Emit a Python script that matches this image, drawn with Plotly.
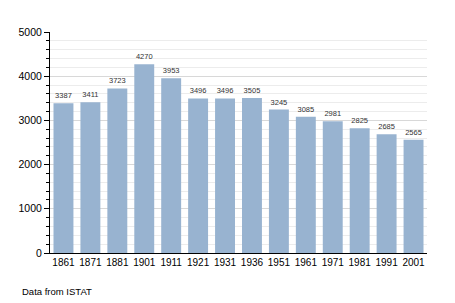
import plotly.graph_objects as go

years = ["1861", "1871", "1881", "1901", "1911", "1921", "1931", "1936", "1951", "1961", "1971", "1981", "1991", "2001"]
population = [3387, 3411, 3723, 4270, 3953, 3496, 3496, 3505, 3245, 3085, 2981, 2825, 2685, 2565]

fig = go.Figure(go.Bar(
    x=years, y=population,
    marker=dict(color="#98b3d0", line=dict(width=0)),
    text=[str(v) for v in population], textposition="outside",
    textfont=dict(size=7.5, color="#333333", family="Liberation Sans, Arial"),
    cliponaxis=False,
))

fig.update_layout(
    width=455, height=303,
    margin=dict(l=50, r=28, t=32, b=50),
    paper_bgcolor="white", plot_bgcolor="white",
    bargap=0.26,
    showlegend=False,
    font=dict(family="Liberation Sans, Arial", size=10, color="black"),
)
fig.update_yaxes(
    range=[0, 5000], tickvals=[0, 1000, 2000, 3000, 4000, 5000],
    showline=True, linecolor="black", linewidth=1,
    ticks="outside", ticklen=5, tickcolor="black", tickfont=dict(size=10.5),
    showgrid=True, gridcolor="#d8d8d8", gridwidth=1,
    minor=dict(dtick=200, ticks="outside", ticklen=3, tickcolor="black", showgrid=True, gridcolor="#ececec"),
    zeroline=False, fixedrange=True,
)
fig.update_xaxes(
    showline=True, linecolor="black", linewidth=1,
    ticks="", tickfont=dict(size=10), fixedrange=True,
)
fig.add_annotation(text="Data from ISTAT", xref="paper", yref="paper",
                   x=-0.08, y=-0.176, xanchor="left", yanchor="middle",
                   showarrow=False, font=dict(size=9.5, color="black"))

fig.write_html("out.html")
